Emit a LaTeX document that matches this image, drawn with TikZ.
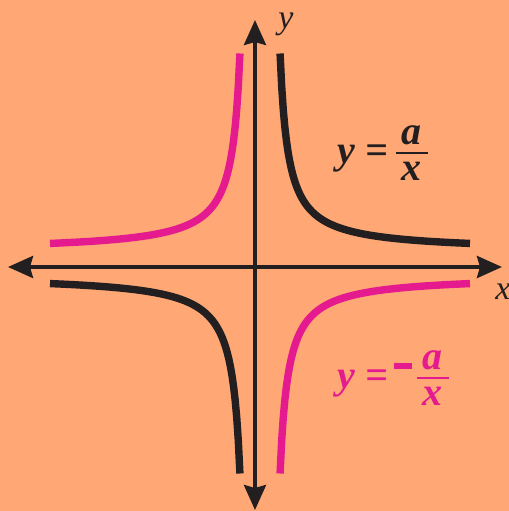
\documentclass[tikz,border=0pt]{standalone}
\usepackage{fontspec}
\setmainfont{Liberation Serif}
\usetikzlibrary{arrows.meta}
\definecolor{BgOrange}{RGB}{255,168,117}
\definecolor{HypPink}{RGB}{228,26,142}
\definecolor{HypBlack}{RGB}{35,31,32}
\newcommand{\hypfrac}[2]{\raisebox{-8.7pt}{\vbox{\hbox to 16pt{\hss#1\hss}\kern3.5pt\hrule height 1pt\kern4pt\hbox to 16pt{\hss#2\hss}}}}
\tikzset{
  axisline/.style={draw=HypBlack, line width=1.9pt, {Stealth[length=12.5pt, width=11pt, inset=1.5pt]}-{Stealth[length=12.5pt, width=11pt, inset=1.5pt]}},
  blackhyp/.style={draw=HypBlack, line width=3.7pt},
  pinkhyp/.style={draw=HypPink, line width=3.7pt},
  eqlabel/.style={font=\fontsize{20}{24}\selectfont\bfseries\itshape, inner sep=0pt, anchor=base west},
  axislabel/.style={font=\fontsize{17}{20}\selectfont\itshape, text=HypBlack, inner sep=0pt}
}

\begin{document}
\begin{tikzpicture}[x=0.5pt, y=0.5pt]
\fill[BgOrange] (-255,-244) rectangle (254,267);
\useasboundingbox (-255,-244) rectangle (254,267);
% axes
\coordinate (xleft) at (-247,0);
\coordinate (xright) at (247,0);
\coordinate (ybottom) at (0,-243);
\coordinate (ytop) at (0,247);
\draw[axisline] (xleft) -- (xright);
\draw[axisline] (ybottom) -- (ytop);
\node[axislabel] (xlab) at (248,-24.5) {x};
\node[axislabel] (ylab) at (31,243) {y};
% the four branches
\begin{scope}[shift={(5,3.5)}]
\draw[blackhyp] plot[domain=8.08:198, samples=120] ({12+\x},{12+1600/\x});
\draw[pinkhyp] plot[domain=8.08:198, samples=120] ({-12-\x},{12+1600/\x});
\draw[blackhyp] plot[domain=8.08:198, samples=120] ({-12-\x},{-12-1600/\x});
\draw[pinkhyp] plot[domain=8.08:198, samples=120] ({12+\x},{-12-1600/\x});
\end{scope}
% labels
\node[eqlabel, text=HypBlack] (poslab) at (82,104) {y =\hspace{4pt}\hypfrac{a}{x}};
\node[eqlabel, text=HypPink] (neglab) at (82,-121) {y =\hspace{3pt}\rule[9.5pt]{9pt}{3pt}\hspace{2.5pt}\hypfrac{a}{x}};
\end{tikzpicture}
\end{document}
